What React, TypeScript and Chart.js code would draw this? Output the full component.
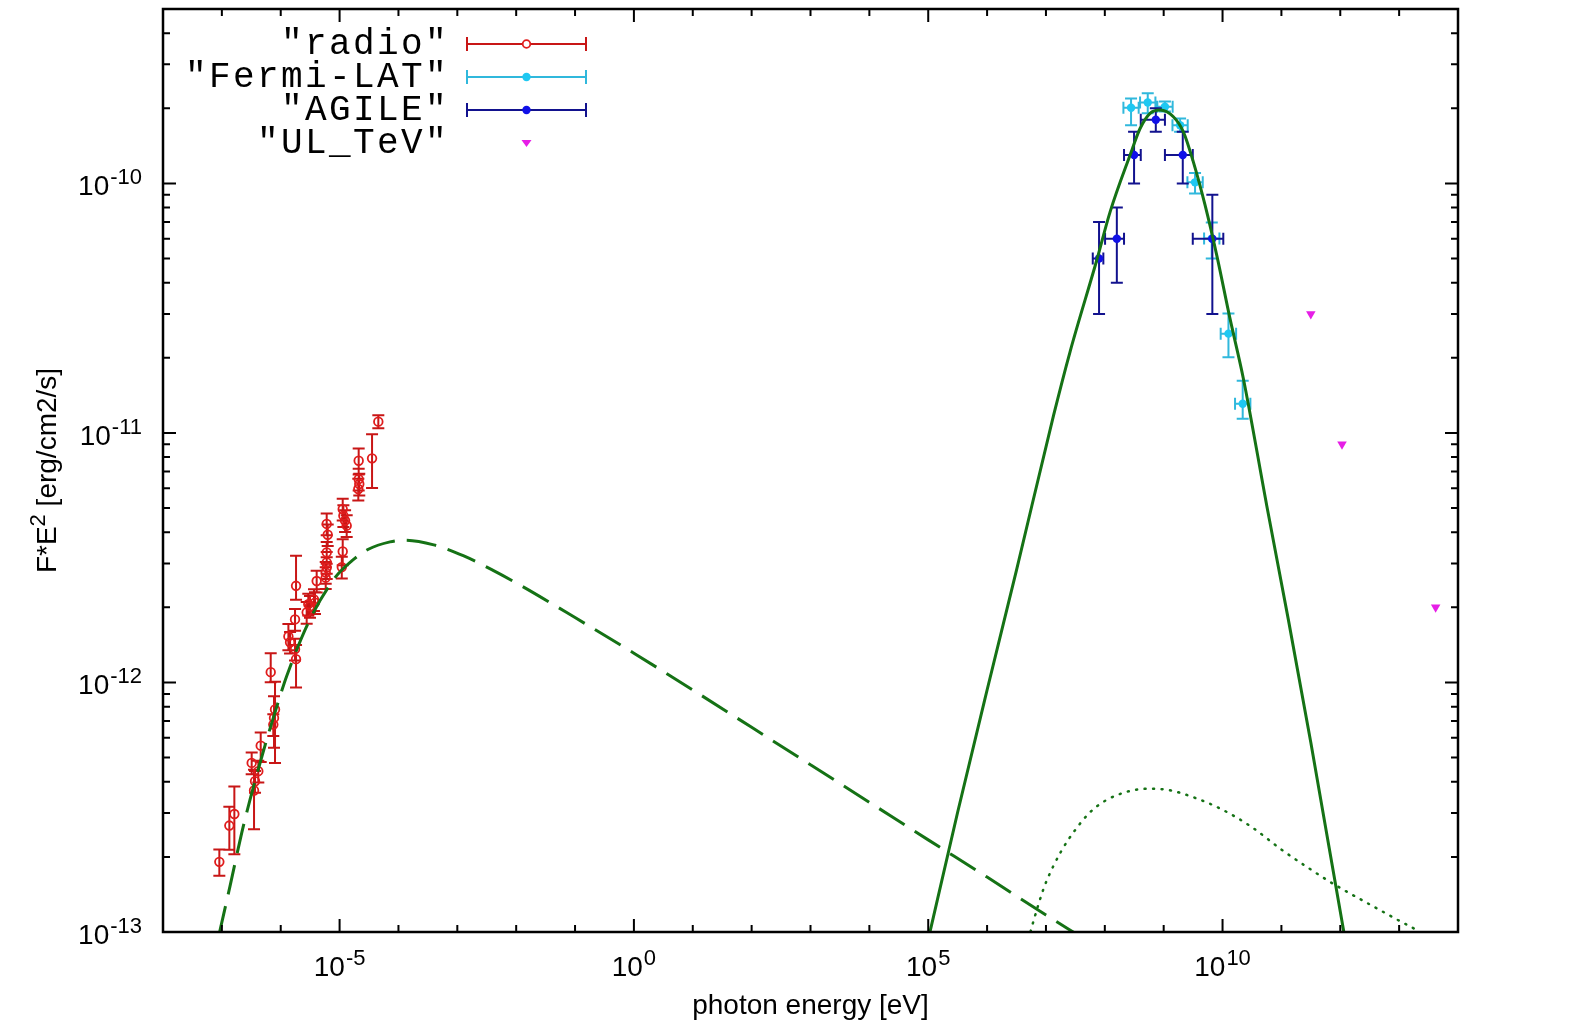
import { useEffect, useRef } from "react";
import { Chart, registerables } from "chart.js";

Chart.register(...registerables);

// radio data (photon energy in eV, F*E^2 in erg/cm2/s)
const radioEnergy = [
  9.06e-8, 1.34e-7, 1.63e-7, 3.21e-7, 3.66e-7, 4.16e-7, 3.52e-7, 4.57e-7, 6.76e-7, 8.0e-7, 7.69e-7,
  7.48e-7, 1.35e-6, 1.44e-6, 1.75e-6, 1.82e-6, 1.75e-6, 2.76e-6, 3.14e-6, 3.82e-6, 1.82e-6, 3.67e-6,
  2.94e-6, 4.08e-6, 6.04e-6, 6.04e-6, 5.81e-6, 5.81e-6, 6.04e-6, 6.04e-6, 6.28e-6, 1.13e-5, 1.16e-5,
  1.24e-5, 1.32e-5, 1.13e-5, 1.09e-5, 2.11e-5, 2.11e-5, 2.16e-5, 2.08e-5, 3.56e-5, 4.55e-5,
];
const radioFlux = [
  1.91e-13, 2.67e-13, 2.97e-13, 4.76e-13, 4.02e-13, 4.41e-13, 3.69e-13, 5.58e-13, 1.1e-12, 7.8e-13,
  7.21e-13, 6.78e-13, 1.53e-12, 1.45e-12, 1.36e-12, 1.24e-12, 1.79e-12, 1.91e-12, 2.02e-12, 2.09e-12,
  2.44e-12, 2.15e-12, 2.06e-12, 2.55e-12, 3.03e-12, 2.89e-12, 2.76e-12, 2.63e-12, 3.32e-12, 4.32e-12,
  3.91e-12, 4.95e-12, 4.66e-12, 4.45e-12, 4.25e-12, 3.35e-12, 2.9e-12, 7.74e-12, 6.53e-12, 6.24e-12,
  5.96e-12, 7.91e-12, 1.11e-11,
];
// relative error bars (up / down)
const radioErrUp = [
  0.12, 0.19, 0.29, 0.1, 0.1, 0.1, 0.21, 0.13, 0.19, 0.29, 0.22, 0.1, 0.12, 0.1, 0.1, 0.14, 0.1, 0.1,
  0.1, 0.1, 0.32, 0.1, 0.1, 0.1, 0.1, 0.1, 0.1, 0.1, 0.1, 0.1, 0.1, 0.1, 0.1, 0.1, 0.1, 0.12, 0.1,
  0.12, 0.1, 0.1, 0.1, 0.25, 0.06,
];
const radioErrDown = [
  0.12, 0.2, 0.31, 0.1, 0.1, 0.1, 0.3, 0.14, 0.09, 0.39, 0.24, 0.1, 0.12, 0.1, 0.1, 0.23, 0.1, 0.1,
  0.1, 0.1, 0.12, 0.1, 0.1, 0.1, 0.1, 0.1, 0.1, 0.1, 0.1, 0.1, 0.1, 0.1, 0.1, 0.1, 0.1, 0.12, 0.1,
  0.12, 0.1, 0.1, 0.1, 0.24, 0.06,
];

const fermiEnergy = [2.79e8, 5.36e8, 1.05e9, 1.9e9, 3.41e9, 6.56e9, 1.26e10, 2.2e10];
const fermiEnergyLo = [2.07e8, 3.97e8, 7.8e8, 1.41e9, 2.53e9, 4.86e9, 9.3e9, 1.63e10];
const fermiEnergyHi = [3.76e8, 7.24e8, 1.42e9, 2.56e9, 4.61e9, 8.85e9, 1.7e10, 2.97e10];
const fermiFlux = [2.01e-10, 2.11e-10, 2.03e-10, 1.71e-10, 1.01e-10, 6.01e-11, 2.5e-11, 1.31e-11];
const fermiFluxLo = [1.71e-10, 1.91e-10, 1.94e-10, 1.61e-10, 9.12e-11, 5.0e-11, 2.01e-11, 1.14e-11];
const fermiFluxHi = [2.19e-10, 2.3e-10, 2.13e-10, 1.82e-10, 1.1e-10, 6.97e-11, 3.01e-11, 1.62e-11];

const agileEnergy = [7.98e7, 1.6e8, 3.14e8, 7.35e8, 2.11e9, 6.71e9];
const agileEnergyLo = [6.24e7, 1.01e8, 2.12e8, 4.08e8, 1.05e9, 3.12e9];
const agileEnergyHi = [9.44e7, 2.12e8, 4.08e8, 1.05e9, 3.12e9, 1.03e10];
const agileFlux = [5.0e-11, 6.0e-11, 1.3e-10, 1.8e-10, 1.3e-10, 6.0e-11];
const agileFluxLo = [3.0e-11, 4.0e-11, 1.0e-10, 1.61e-10, 1.0e-10, 3.0e-11];
const agileFluxHi = [7.0e-11, 8.0e-11, 1.61e-10, 2.0e-10, 1.61e-10, 9.0e-11];

const ulEnergy = [3.16e11, 1.07e12, 4.17e13];
const ulFlux = [3.0e-11, 9.0e-12, 2.0e-12];

// model curves
const synchEnergy = [
  8.9e-8, 1.37e-7, 2.17e-7, 3.01e-7, 5.78e-7, 9.73e-7, 1.26e-6, 3.14e-6, 8.36e-6, 1.61e-5, 3.08e-5,
  7.19e-5, 1.28e-4, 3.98e-4, 1.26e-3, 3.98e-3, 1.26e-2, 0.1, 1, 10, 100, 1e3, 1e4, 1e5, 1e6, 1e7, 3.98e7,
];
const synchFlux = [
  0.97e-13, 1.52e-13, 2.49e-13, 3.39e-13, 5.9e-13, 8.81e-13, 1.06e-12, 1.79e-12, 2.63e-12, 3.07e-12,
  3.42e-12, 3.66e-12, 3.72e-12, 3.56e-12, 3.22e-12, 2.82e-12, 2.43e-12, 1.82e-12, 1.31e-12, 9.33e-13,
  6.61e-13, 4.68e-13, 3.31e-13, 2.34e-13, 1.66e-13, 1.17e-13, 9.55e-14,
];
const gammaEnergy = [
  9.55e4, 3.16e5, 1e6, 3.16e6, 1.34e7, 2.56e7, 7.29e7, 1.23e8, 2.69e8, 3.97e8, 5.87e8, 8.69e8, 1.46e9,
  2.16e9, 3.19e9, 5.05e9, 7.98e9, 1.34e10, 2.26e10, 5.64e10, 1.31e11, 3.16e11, 1.15e12, 1.26e12,
];
const gammaFlux = [
  8.9e-14, 3.02e-13, 9.33e-13, 2.82e-12, 1.17e-11, 2.11e-11, 4.92e-11, 7.69e-11, 1.3e-10, 1.66e-10,
  1.91e-10, 1.97e-10, 1.85e-10, 1.61e-10, 1.22e-10, 8.18e-11, 5.15e-11, 2.87e-11, 1.65e-11, 5.11e-12,
  1.79e-12, 5.75e-13, 1.0e-13, 8.9e-14,
];
const icEnergy = [
  5.01e6, 6.17e6, 8.32e6, 1e7, 1.78e7, 3.16e7, 5.62e7, 1e8, 2.51e8, 5.62e8, 1.26e9, 3.16e9, 1e10,
  3.16e10, 1e11, 3.16e11, 7.94e11, 3.16e12, 1e13, 2.24e13, 2.51e13,
];
const icFlux = [
  9.3e-14, 1.11e-13, 1.4e-13, 1.58e-13, 2.09e-13, 2.57e-13, 3.02e-13, 3.35e-13, 3.66e-13, 3.75e-13,
  3.7e-13, 3.47e-13, 3.09e-13, 2.63e-13, 2.14e-13, 1.78e-13, 1.55e-13, 1.29e-13, 1.11e-13, 1.0e-13,
  0.98e-13,
];

const xTickExponents = ["-5", "0", "5", "10"];
const yTickExponents = ["-13", "-12", "-11", "-10"];
const legendLabels = ['"radio"', '"Fermi-LAT"', '"AGILE"', '"UL_TeV"'];

const SANS = '"Liberation Sans", Arial, Helvetica, sans-serif';
const MONO = '"Liberation Mono", "DejaVu Sans Mono", monospace';

const RADIO_BAR = "#c81616";
const RADIO_PT = "#e01c1c";
const FERMI_BAR = "#30b8dc";
const FERMI_PT = "#1ec8f2";
const AGILE_BAR = "#12128e";
const AGILE_PT = "#1010e8";
const UL_COLOR = "#e61ee6";
const MODEL = "#157215";

const X_MIN = 1e-8;
const X_MAX = 1e14;
const Y_MIN = 1e-13;
const Y_MAX = 5e-10;

// draws "10" with a raised exponent
function drawPower(ctx: CanvasRenderingContext2D, exp: string, x: number, y: number, align: string) {
  ctx.font = `28px ${SANS}`;
  const wb = ctx.measureText("10").width;
  ctx.font = `22px ${SANS}`;
  const we = ctx.measureText(exp).width;
  const total = wb + we + 1;
  const left = align === "right" ? x - total : x - total / 2;
  ctx.textAlign = "left";
  ctx.textBaseline = "alphabetic";
  ctx.font = `28px ${SANS}`;
  ctx.fillText("10", left, y);
  ctx.font = `22px ${SANS}`;
  ctx.fillText(exp, left + wb + 1, y - 11);
}

const errorBarPlugin = {
  id: "errorBars",
  beforeDatasetDraw(chart: any, args: any) {
    const ds = chart.data.datasets[args.index];
    if (!ds.errorColor) return;
    const { ctx, chartArea: a } = chart;
    const xs = chart.scales.x;
    const ys = chart.scales.y;
    const cap = 6;
    ctx.save();
    ctx.beginPath();
    ctx.rect(a.left, a.top, a.right - a.left, a.bottom - a.top);
    ctx.clip();
    ctx.strokeStyle = ds.errorColor;
    ctx.lineWidth = 2;
    ctx.beginPath();
    ds.data.forEach((p: any) => {
      const px = xs.getPixelForValue(p.x);
      const py = ys.getPixelForValue(p.y);
      if (p.yMin !== undefined) {
        const y1 = ys.getPixelForValue(p.yMin);
        const y2 = ys.getPixelForValue(p.yMax);
        ctx.moveTo(px, y1);
        ctx.lineTo(px, y2);
        ctx.moveTo(px - cap, y1);
        ctx.lineTo(px + cap, y1);
        ctx.moveTo(px - cap, y2);
        ctx.lineTo(px + cap, y2);
      }
      if (p.xMin !== undefined) {
        const x1 = xs.getPixelForValue(p.xMin);
        const x2 = xs.getPixelForValue(p.xMax);
        ctx.moveTo(x1, py);
        ctx.lineTo(x2, py);
        ctx.moveTo(x1, py - cap);
        ctx.lineTo(x1, py + cap);
        ctx.moveTo(x2, py - cap);
        ctx.lineTo(x2, py + cap);
      }
    });
    ctx.stroke();
    ctx.restore();
  },
};

const framePlugin = {
  id: "gnuplotFrame",
  afterDraw(chart: any) {
    const { ctx, chartArea: a } = chart;
    const xs = chart.scales.x;
    const ys = chart.scales.y;
    ctx.save();
    ctx.strokeStyle = "#000";
    ctx.fillStyle = "#000";

    // inward ticks on all four sides
    ctx.lineWidth = 2;
    ctx.beginPath();
    for (let e = -8; e <= 14; e++) {
      const px = xs.getPixelForValue(Math.pow(10, e));
      const len = e % 5 === 0 ? 13 : 7;
      ctx.moveTo(px, a.bottom);
      ctx.lineTo(px, a.bottom - len);
      ctx.moveTo(px, a.top);
      ctx.lineTo(px, a.top + len);
    }
    for (let e = -13; e <= -10; e++) {
      for (let k = 1; k <= 9; k++) {
        const v = k * Math.pow(10, e);
        if (v > Y_MAX) break;
        const py = ys.getPixelForValue(v);
        const len = k === 1 ? 13 : 7;
        ctx.moveTo(a.left, py);
        ctx.lineTo(a.left + len, py);
        ctx.moveTo(a.right, py);
        ctx.lineTo(a.right - len, py);
      }
    }
    ctx.stroke();
    ctx.lineWidth = 2.5;
    ctx.strokeRect(a.left, a.top, a.right - a.left, a.bottom - a.top);

    // tick labels
    xTickExponents.forEach((exp) => {
      const px = xs.getPixelForValue(Math.pow(10, Number(exp)));
      drawPower(ctx, exp, px, a.bottom + 44, "center");
    });
    yTickExponents.forEach((exp) => {
      const py = ys.getPixelForValue(Math.pow(10, Number(exp)));
      drawPower(ctx, exp, a.left - 21, py + 12, "right");
    });

    // axis titles
    ctx.font = `28px ${SANS}`;
    ctx.textAlign = "center";
    ctx.textBaseline = "alphabetic";
    ctx.fillText("photon energy [eV]", (a.left + a.right) / 2, a.bottom + 82);

    ctx.save();
    ctx.translate(56, (a.top + a.bottom) / 2);
    ctx.rotate(-Math.PI / 2);
    ctx.font = `28px ${SANS}`;
    const p1 = "F*E";
    const p3 = " [erg/cm2/s]";
    const w1 = ctx.measureText(p1).width;
    const w3 = ctx.measureText(p3).width;
    ctx.font = `22px ${SANS}`;
    const w2 = ctx.measureText("2").width;
    let tx = -(w1 + w2 + w3) / 2;
    ctx.textAlign = "left";
    ctx.font = `28px ${SANS}`;
    ctx.fillText(p1, tx, 0);
    tx += w1;
    ctx.font = `22px ${SANS}`;
    ctx.fillText("2", tx, -11);
    tx += w2;
    ctx.font = `28px ${SANS}`;
    ctx.fillText(p3, tx, 0);
    ctx.restore();

    // key
    const sample0 = 467;
    const sample1 = 586;
    const mid = (sample0 + sample1) / 2;
    const keyColors = [
      [RADIO_BAR, RADIO_PT],
      [FERMI_BAR, FERMI_PT],
      [AGILE_BAR, AGILE_PT],
      [UL_COLOR, UL_COLOR],
    ];
    legendLabels.forEach((label, i) => {
      const y = 44 + 33 * i;
      ctx.font = `36px ${MONO}`;
      ctx.letterSpacing = "2.4px";
      ctx.textAlign = "right";
      ctx.fillStyle = "#000";
      ctx.fillText(label, 449, y + 10);
      ctx.letterSpacing = "0px";
      const [bar, pt] = keyColors[i];
      if (i < 3) {
        ctx.strokeStyle = bar;
        ctx.lineWidth = 2;
        ctx.beginPath();
        ctx.moveTo(sample0, y);
        ctx.lineTo(sample1, y);
        ctx.moveTo(sample0, y - 7);
        ctx.lineTo(sample0, y + 7);
        ctx.moveTo(sample1, y - 7);
        ctx.lineTo(sample1, y + 7);
        ctx.stroke();
        ctx.beginPath();
        ctx.arc(mid, y, i === 0 ? 3.8 : 4.2, 0, Math.PI * 2);
        if (i === 0) {
          ctx.fillStyle = "#fff";
          ctx.fill();
          ctx.strokeStyle = pt;
          ctx.lineWidth = 1.8;
          ctx.stroke();
        } else {
          ctx.fillStyle = pt;
          ctx.fill();
        }
      } else {
        ctx.fillStyle = pt;
        ctx.beginPath();
        ctx.moveTo(mid - 5, y - 3);
        ctx.lineTo(mid + 5, y - 3);
        ctx.lineTo(mid, y + 4);
        ctx.closePath();
        ctx.fill();
      }
    });
    ctx.restore();
  },
};

const SedChart = () => {
  const chartRef = useRef<HTMLCanvasElement | null>(null);
  const chartInstance = useRef<Chart | null>(null);

  useEffect(() => {
    document.body.style.margin = "0";
    document.body.style.overflow = "hidden";
    if (!chartRef.current) return;
    if (chartInstance.current) {
      chartInstance.current.destroy();
    }

    const ctx = chartRef.current.getContext("2d");
    if (!ctx) return;

    const radioPoints = radioEnergy.map((x, i) => ({
      x,
      y: radioFlux[i],
      yMin: radioFlux[i] * (1 - radioErrDown[i]),
      yMax: radioFlux[i] * (1 + radioErrUp[i]),
    }));
    const fermiPoints = fermiEnergy.map((x, i) => ({
      x,
      y: fermiFlux[i],
      xMin: fermiEnergyLo[i],
      xMax: fermiEnergyHi[i],
      yMin: fermiFluxLo[i],
      yMax: fermiFluxHi[i],
    }));
    const agilePoints = agileEnergy.map((x, i) => ({
      x,
      y: agileFlux[i],
      xMin: agileEnergyLo[i],
      xMax: agileEnergyHi[i],
      yMin: agileFluxLo[i],
      yMax: agileFluxHi[i],
    }));
    const ulPoints = ulEnergy.map((x, i) => ({ x, y: ulFlux[i] }));
    const curve = (xs: number[], ys: number[]) => xs.map((x, i) => ({ x, y: ys[i] }));

    chartInstance.current = new Chart(ctx, {
      type: "scatter",
      data: {
        datasets: [
          {
            label: "gamma",
            data: curve(gammaEnergy, gammaFlux),
            showLine: true,
            pointRadius: 0,
            borderColor: MODEL,
            borderWidth: 3,
            cubicInterpolationMode: "monotone",
          },
          {
            label: "synchrotron",
            data: curve(synchEnergy, synchFlux),
            showLine: true,
            pointRadius: 0,
            borderColor: MODEL,
            borderWidth: 3,
            borderDash: [30, 12],
            cubicInterpolationMode: "monotone",
          },
          {
            label: "ic",
            data: curve(icEnergy, icFlux),
            showLine: true,
            pointRadius: 0,
            borderColor: MODEL,
            borderWidth: 2.5,
            borderDash: [1, 7.5],
            borderCapStyle: "round",
            cubicInterpolationMode: "monotone",
          },
          {
            label: "UL_TeV",
            data: ulPoints,
            pointStyle: "triangle",
            rotation: 180,
            pointRadius: 5.5,
            pointBackgroundColor: UL_COLOR,
            pointBorderColor: UL_COLOR,
            pointBorderWidth: 0,
          },
          {
            label: "AGILE",
            data: agilePoints,
            pointRadius: 4.2,
            pointBackgroundColor: AGILE_PT,
            pointBorderColor: AGILE_PT,
            pointBorderWidth: 0,
            errorColor: AGILE_BAR,
          } as any,
          {
            label: "Fermi-LAT",
            data: fermiPoints,
            pointRadius: 4.2,
            pointBackgroundColor: FERMI_PT,
            pointBorderColor: FERMI_PT,
            pointBorderWidth: 0,
            errorColor: FERMI_BAR,
          } as any,
          {
            label: "radio",
            data: radioPoints,
            pointRadius: 4.3,
            pointBackgroundColor: "rgba(255,255,255,0)",
            pointBorderColor: RADIO_PT,
            pointBorderWidth: 1.8,
            errorColor: RADIO_BAR,
          } as any,
        ],
      },
      options: {
        animation: false,
        responsive: true,
        maintainAspectRatio: false,
        events: [],
        layout: { padding: { left: 163, right: 137, top: 9, bottom: 94 } },
        plugins: {
          legend: { display: false },
          tooltip: { enabled: false },
        },
        scales: {
          x: { type: "logarithmic", min: X_MIN, max: X_MAX, display: false },
          y: { type: "logarithmic", min: Y_MIN, max: Y_MAX, display: false },
        },
      },
      plugins: [errorBarPlugin, framePlugin],
    });

    return () => {
      if (chartInstance.current) {
        chartInstance.current.destroy();
        chartInstance.current = null;
      }
    };
  }, []);

  return (
    <div style={{ position: "relative", width: 1595, height: 1026, background: "#fff" }}>
      <canvas ref={chartRef} />
    </div>
  );
};

export default function App() {
  return <SedChart />;
}
